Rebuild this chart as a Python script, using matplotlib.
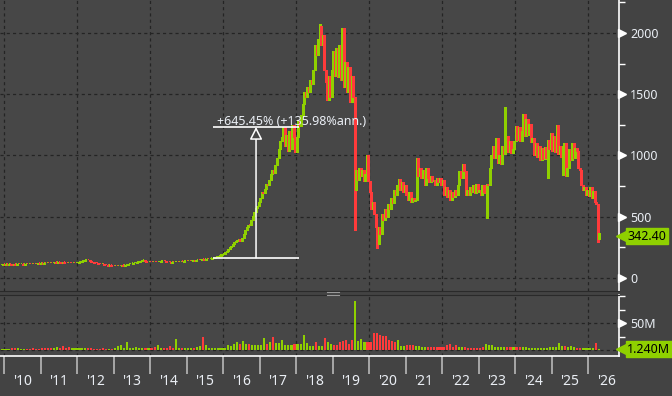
import numpy as np
import matplotlib.pyplot as plt
import matplotlib.transforms as mtransforms
from matplotlib.lines import Line2D

# ---- price data: semi-monthly closes (two bars per month) ----
close_2009 = [108, 112]  # December only
close_2010 = [110, 113, 109, 112, 110, 108, 111, 109, 112, 114, 111, 113,
              110, 112, 115, 113, 116, 114, 117, 115, 118, 116, 119, 117]
close_2011 = [120, 118, 121, 119, 122, 120, 123, 121, 124, 127, 125, 128,
              126, 124, 127, 125, 123, 121, 124, 122, 120, 122, 121, 123]
close_2012 = [126, 130, 134, 138, 142, 147, 151, 146, 139, 132, 128, 124,
              120, 117, 114, 111, 113, 110, 107, 104, 102, 105, 101, 99]
close_2013 = [98, 101, 99, 102, 100, 104, 102, 106, 108, 111, 114, 117,
              120, 123, 126, 129, 132, 136, 142, 148, 138, 134, 131, 133]
close_2014 = [130, 128, 131, 129, 127, 130, 134, 138, 141, 137, 133, 130,
              128, 126, 128, 127, 129, 131, 130, 132, 134, 133, 135, 137]
close_2015 = [136, 139, 138, 141, 143, 140, 144, 147, 145, 149, 152, 150,
              154, 157, 155, 159, 162, 165, 168, 172, 176, 182, 188, 195]
close_2016 = [200, 210, 222, 236, 250, 262, 275, 290, 300, 312, 320, 305,
              330, 360, 395, 420, 435, 430, 470, 505, 540, 575, 590, 620]
close_2017 = [650, 700, 690, 730, 770, 760, 800, 850, 880, 860, 920, 980,
              1050, 1120, 1150, 1230, 1080, 1170, 1040, 1200, 1050, 1250, 1150, 1030]
close_2018 = [1150, 1280, 1240, 1330, 1420, 1520, 1480, 1560, 1520, 1620, 1580, 1700,
              1900, 1820, 1950, 2060, 1900, 1980, 1700, 1600, 1450, 1650, 1480, 1700]
close_2019 = [1850, 1650, 1880, 1640, 1900, 1620, 2040, 1560, 1760, 1520, 1720, 1440,
              1650, 1480, 720, 880, 800, 900, 830, 880, 790, 850, 1000, 790]
close_2020 = [700, 560, 620, 520, 420, 280, 420, 360, 520, 470, 560, 500,
              600, 560, 650, 610, 720, 680, 760, 810, 720, 780, 700, 760]
close_2021 = [680, 640, 700, 620, 650, 630, 640, 980, 830, 900, 820, 880,
              760, 900, 820, 780, 830, 790, 800, 760, 820, 780, 820, 760]
close_2022 = [800, 680, 740, 660, 720, 640, 700, 660, 720, 680, 760, 870,
              820, 930, 870, 680, 720, 680, 740, 700, 760, 690, 770, 700]
close_2023 = [720, 680, 760, 700, 690, 770, 760, 900, 1000, 1080, 980, 1140,
              940, 1000, 930, 1080, 1010, 1140, 1160, 1030, 1120, 1020, 1050, 1120]
close_2024 = [1240, 1130, 1230, 1120, 1200, 1340, 1160, 1300, 1170, 1260, 1110, 1140,
              1000, 1100, 990, 1080, 960, 1060, 970, 1070, 980, 1130, 1050, 1180]
close_2025 = [1040, 1160, 1030, 1250, 1010, 1080, 990, 1080, 1100, 830, 900, 1050,
              960, 1100, 980, 1060, 1040, 900, 880, 760, 720, 740, 680, 720]
close_2026 = [670, 740, 650, 710, 620, 600, 320, 342.40]
first_open = 106

# long wicks (year, bar in year) -> price
wick_low = {(2019, 14): 392, (2020, 5): 245, (2023, 5): 490,
            (2024, 21): 816, (2025, 7): 841, (2026, 6): 294}
wick_high = {(2018, 15): 2075, (2023, 17): 1396, (2026, 7): 367}

# ---- monthly volume, millions ----
vol_2009 = [2.5]  # December only
vol_2010 = [2.5, 2, 3, 4, 3, 2, 2, 2.5, 2, 3, 2, 2.5]
vol_2011 = [3, 3, 3.5, 3, 4, 5, 4, 7, 4, 5, 3, 3]
vol_2012 = [3, 3, 4, 3, 3, 2.5, 2.5, 2, 3, 2.5, 2.5, 2]
vol_2013 = [3, 7, 9, 3, 15, 3, 3, 6, 3, 4, 3, 4]
vol_2014 = [4, 5, 9, 4, 4, 4, 8, 4, 21, 3, 4, 3]
vol_2015 = [3, 3, 4, 6, 7, 25, 10, 3, 4, 3, 4, 3]
vol_2016 = [4, 10, 8, 11, 15, 11, 17, 11, 11, 10, 10, 10]
vol_2017 = [10, 23, 11, 15, 25, 13, 13, 19, 10, 10, 10, 11]
vol_2018 = [11, 12, 28, 13, 8, 8, 14, 8, 8, 23, 15, 11]
vol_2019 = [9, 9, 15, 17, 18, 11, 18, 91, 17, 20, 15, 15]
vol_2020 = [15, 31, 31, 28, 26, 26, 19, 17, 15, 18, 8, 8]
vol_2021 = [10, 10, 10, 8, 8, 6, 6, 5.5, 6, 6, 6, 6]
vol_2022 = [6, 9, 11, 6, 10, 6, 6, 5.5, 4.5, 4.5, 4.5, 4.5]
vol_2023 = [4.5, 5, 12, 9, 8.5, 6, 6, 6, 6, 5, 6, 6]
vol_2024 = [6, 5, 5, 5, 4.3, 4.3, 3.7, 4.3, 4.3, 4.3, 3, 5]
vol_2025 = [5, 5, 13, 7, 7, 5.5, 7, 6, 4.3, 3.7, 3.7, 4]
vol_2026 = [3.7, 3.7, 13, 1.24]

year_labels = ["'10", "'11", "'12", "'13", "'14", "'15", "'16", "'17", "'18",
               "'19", "'20", "'21", "'22", "'23", "'24", "'25", "'26"]

# measurement tool annotation
measure_start, measure_end = 2015.73, 2018.08
measure_low, measure_high = 165.4, 1233.0
measure_text = "+645.45% (+135.98%ann.)"

price_label = "342.40"
vol_label = "1.240M"

# ---- assemble ----
price_years = [(2009, close_2009), (2010, close_2010), (2011, close_2011), (2012, close_2012),
               (2013, close_2013), (2014, close_2014), (2015, close_2015), (2016, close_2016),
               (2017, close_2017), (2018, close_2018), (2019, close_2019), (2020, close_2020),
               (2021, close_2021), (2022, close_2022), (2023, close_2023), (2024, close_2024),
               (2025, close_2025), (2026, close_2026)]
t, closes, lows, highs = [], [], [], []
for yr, vals in price_years:
    k0 = 22 if yr == 2009 else 0
    for k, v in enumerate(vals):
        t.append(yr + (k0 + k + 0.5) / 24)
        closes.append(v)
        lows.append(wick_low.get((yr, k), np.nan))
        highs.append(wick_high.get((yr, k), np.nan))
t = np.array(t)
closes = np.array(closes, float)
opens = np.r_[first_open, closes[:-1]]
body_lo = np.minimum(opens, closes)
body_hi = np.maximum(opens, closes)
lows = np.where(np.isnan(lows), body_lo, lows)
highs = np.where(np.isnan(highs), body_hi, highs)

vol_years = [(2009, vol_2009), (2010, vol_2010), (2011, vol_2011), (2012, vol_2012),
             (2013, vol_2013), (2014, vol_2014), (2015, vol_2015), (2016, vol_2016),
             (2017, vol_2017), (2018, vol_2018), (2019, vol_2019), (2020, vol_2020),
             (2021, vol_2021), (2022, vol_2022), (2023, vol_2023), (2024, vol_2024),
             (2025, vol_2025), (2026, vol_2026)]
tm, vols = [], []
for yr, vals in vol_years:
    m0 = 11 if yr == 2009 else 0
    for m, v in enumerate(vals):
        tm.append(yr + (m0 + m + 0.5) / 12)
        vols.append(v)
tm = np.array(tm)
vols = np.array(vols)
# month colour from the second half-month bar
last_bar = np.minimum(2 * np.arange(len(vols)) + 1, len(closes) - 1)
vol_up = closes[last_bar] >= opens[last_bar]

GREEN = '#8fd000'
RED = '#ff3b3b'
BG = '#474747'
FIG_BG = '#434343'
GRID = '#242424'
TXT = '#eaeef4'

plt.rcParams['font.family'] = ['Noto Sans', 'DejaVu Sans']

fig = plt.figure(figsize=(6.72, 3.96), dpi=100, facecolor=FIG_BG)
ax = fig.add_axes([0, 105 / 396, 619 / 672, 291 / 396], facecolor=BG)
axv = fig.add_axes([0, 40 / 396, 619 / 672, 61 / 396], facecolor=BG, sharex=ax)

xmin, xmax = 2009.8904, 2026.849
ax.set_xlim(xmin, xmax)
ax.set_ylim(-106, 2269)
axv.set_ylim(-11.1, 101.9)

# grid
for a in (ax, axv):
    for yr in range(2010, 2027, 2):
        a.axvline(yr, color=GRID, lw=0.9, ls=(0, (2.5, 2.5)), zorder=0)
for lv in [0, 500, 1000, 1500, 2000]:
    ax.axhline(lv, color=GRID, lw=0.9, ls=(0, (2.5, 2.5)), zorder=0)
for lv in [0, 50]:
    axv.axhline(lv, color=GRID, lw=0.9, ls=(0, (2.5, 2.5)), zorder=0)

# candles
up = closes >= opens
cols = np.where(up, GREEN, RED)
ax.vlines(t, lows, highs, colors=cols, lw=1.0, zorder=3, antialiased=False)
ax.bar(t, np.maximum(body_hi - body_lo, 10), bottom=body_lo, width=0.65 / 24,
       color=cols, linewidth=0, zorder=3, antialiased=False)

# volume
vcols = np.where(vol_up, GREEN, RED)
axv.bar(tm, vols, width=0.7 / 12, color=vcols, linewidth=0, zorder=3, antialiased=False)

# measurement annotation
ax.hlines([measure_low, measure_high], measure_start, measure_end, color='white', lw=1.2, zorder=4)
mid = (measure_start + measure_end) / 2
ax.annotate('', xy=(mid, measure_high), xytext=(mid, measure_low),
            arrowprops=dict(arrowstyle='-|>,head_length=0.75,head_width=0.38',
                            ec='white', fc=BG, lw=1.1, shrinkA=0, shrinkB=0,
                            mutation_scale=10), zorder=4)
ax.annotate(measure_text, xy=(measure_start, measure_high), xytext=(2.5, 1.5),
            textcoords='offset points', ha='left', va='baseline',
            fontsize=9, color=TXT, zorder=5)

# axes styling
for a in (ax, axv):
    for s in ['left', 'top', 'bottom']:
        a.spines[s].set_visible(False)
    a.spines['right'].set_color('white')
    a.spines['right'].set_linewidth(1.2)
    a.yaxis.tick_right()
    a.tick_params(axis='y', which='major', length=0, pad=8, labelsize=9, labelcolor=TXT)
    a.tick_params(axis='y', which='minor', length=4, width=1, color='white')
ax.spines['bottom'].set_visible(True)
ax.spines['bottom'].set_color('#2a2a2a')
axv.spines['top'].set_visible(True)
axv.spines['top'].set_color('#2a2a2a')
axv.spines['bottom'].set_visible(True)
axv.spines['bottom'].set_color('white')
axv.spines['bottom'].set_linewidth(1.2)

ax.set_yticks([0, 500, 1000, 1500, 2000])
ax.set_yticks([250, 750, 1250, 1750, 2250], minor=True)
axv.set_yticks([50])
axv.set_yticklabels(['50M'])
axv.set_yticks([0, 25, 75, 100], minor=True)

ax.tick_params(axis='x', which='both', length=0, labelbottom=False)
years = np.arange(2010, 2027)
axv.set_xticks(years)
axv.set_xticks(years + 0.5, minor=True)
axv.set_xticklabels(year_labels, minor=True)
axv.tick_params(axis='x', which='major', length=13, width=1.2, color='#b8b8b8', labelbottom=False)
axv.tick_params(axis='x', which='minor', length=0, pad=13, labelsize=10, labelcolor=TXT)

# tick flags on the right axis
for a, levels in ((ax, [0, 500, 1000, 1500, 2000]), (axv, [50])):
    tr = mtransforms.offset_copy(a.get_yaxis_transform(), fig=fig, x=3, y=0, units='dots')
    a.plot(np.ones(len(levels)), levels, '>', ms=6, color='white', mec='white',
           transform=tr, clip_on=False, zorder=6)

# last value boxes
for a, val, txt in ((ax, closes[-1], price_label), (axv, vols[-1], vol_label)):
    tr = mtransforms.offset_copy(a.get_yaxis_transform(), fig=fig, x=4, y=0, units='dots')
    a.plot([1], [val], '<', ms=10, color=GREEN, mec=GREEN, transform=tr, clip_on=False, zorder=6)
    a.annotate(txt, xy=(1, val), xycoords=a.get_yaxis_transform(), xytext=(6, 0),
               textcoords='offset points', ha='left', va='center', fontsize=9, color='black',
               bbox=dict(boxstyle='square,pad=0.12', fc=GREEN, ec=GREEN), zorder=7,
               annotation_clip=False)

# splitter grip
for yy in (292, 294.5):
    fig.add_artist(Line2D([327 / 672, 339 / 672], [(396 - yy) / 396] * 2,
                          color='#9a9a9a', lw=0.8, transform=fig.transFigure))

fig.savefig('out.png', dpi=100, facecolor=FIG_BG)
